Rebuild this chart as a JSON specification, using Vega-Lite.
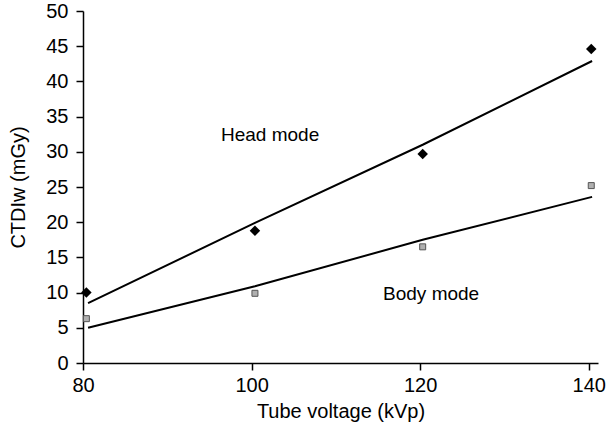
{
  "$schema": "https://vega.github.io/schema/vega-lite/v6.json",
  "width": 515,
  "height": 352,
  "autosize": {"type": "none"},
  "padding": {"left": 83, "top": 11, "right": 10, "bottom": 71},
  "background": "white",
  "config": {
    "view": {"stroke": null},
    "font": "Liberation Sans",
    "axis": {
      "grid": false,
      "domainColor": "black",
      "tickColor": "black",
      "labelColor": "black",
      "titleColor": "black",
      "labelFont": "Liberation Sans",
      "titleFont": "Liberation Sans",
      "labelFontSize": 20,
      "titleFontSize": 20,
      "titleFontWeight": "normal",
      "labelOverlap": false,
      "labelBound": false,
      "labelFlush": false,
      "tickSize": 7,
      "domainWidth": 1.5,
      "tickWidth": 1.5
    }
  },
  "datasets": {
    "points": [
      {"kvp": 80.4, "ctdi": 10.0, "mode": "Head"},
      {"kvp": 100.4, "ctdi": 18.8, "mode": "Head"},
      {"kvp": 120.3, "ctdi": 29.7, "mode": "Head"},
      {"kvp": 140.3, "ctdi": 44.6, "mode": "Head"},
      {"kvp": 80.4, "ctdi": 6.3, "mode": "Body"},
      {"kvp": 100.4, "ctdi": 9.9, "mode": "Body"},
      {"kvp": 120.3, "ctdi": 16.5, "mode": "Body"},
      {"kvp": 140.3, "ctdi": 25.2, "mode": "Body"}
    ],
    "fits": [
      {"kvp": 80.6, "ctdi": 8.5, "mode": "Head"},
      {"kvp": 100.4, "ctdi": 19.9, "mode": "Head"},
      {"kvp": 120.3, "ctdi": 31.0, "mode": "Head"},
      {"kvp": 140.4, "ctdi": 42.9, "mode": "Head"},
      {"kvp": 80.6, "ctdi": 5.0, "mode": "Body"},
      {"kvp": 100.4, "ctdi": 10.9, "mode": "Body"},
      {"kvp": 120.3, "ctdi": 17.5, "mode": "Body"},
      {"kvp": 140.4, "ctdi": 23.6, "mode": "Body"}
    ],
    "labels": [
      {"kvp": 102.2, "ctdi": 32.4, "text": "Head mode"},
      {"kvp": 121.3, "ctdi": 9.8, "text": "Body mode"}
    ]
  },
  "encoding": {
    "x": {
      "field": "kvp",
      "type": "quantitative",
      "scale": {"domain": [80, 141.1], "nice": false, "zero": false},
      "axis": {"values": [80, 100, 120, 140], "title": "Tube voltage (kVp)", "labelPadding": 5, "titlePadding": 6}
    },
    "y": {
      "field": "ctdi",
      "type": "quantitative",
      "scale": {"domain": [0, 50], "nice": false},
      "axis": {"values": [0, 5, 10, 15, 20, 25, 30, 35, 40, 45, 50], "tickCount": 11, "title": "CTDIw (mGy)", "labelPadding": 8, "titlePadding": 17}
    }
  },
  "layer": [
    {
      "data": {"name": "fits"},
      "mark": {"type": "line", "color": "black", "strokeWidth": 2},
      "encoding": {
        "detail": {"field": "mode"}
      }
    },
    {
      "data": {"name": "points"},
      "transform": [{"filter": "datum.mode === 'Head'"}],
      "mark": {"type": "point", "shape": "diamond", "filled": true, "color": "black", "size": 110, "opacity": 1},
      "encoding": {}
    },
    {
      "data": {"name": "points"},
      "transform": [{"filter": "datum.mode === 'Body'"}],
      "mark": {"type": "point", "shape": "square", "filled": true, "fill": "#b0b0b0", "stroke": "#555555", "strokeWidth": 1, "size": 36, "opacity": 1},
      "encoding": {}
    },
    {
      "data": {"name": "labels"},
      "mark": {"type": "text", "fontSize": 19, "color": "black", "font": "Liberation Sans"},
      "encoding": {
        "text": {"field": "text"}
      }
    }
  ]
}
